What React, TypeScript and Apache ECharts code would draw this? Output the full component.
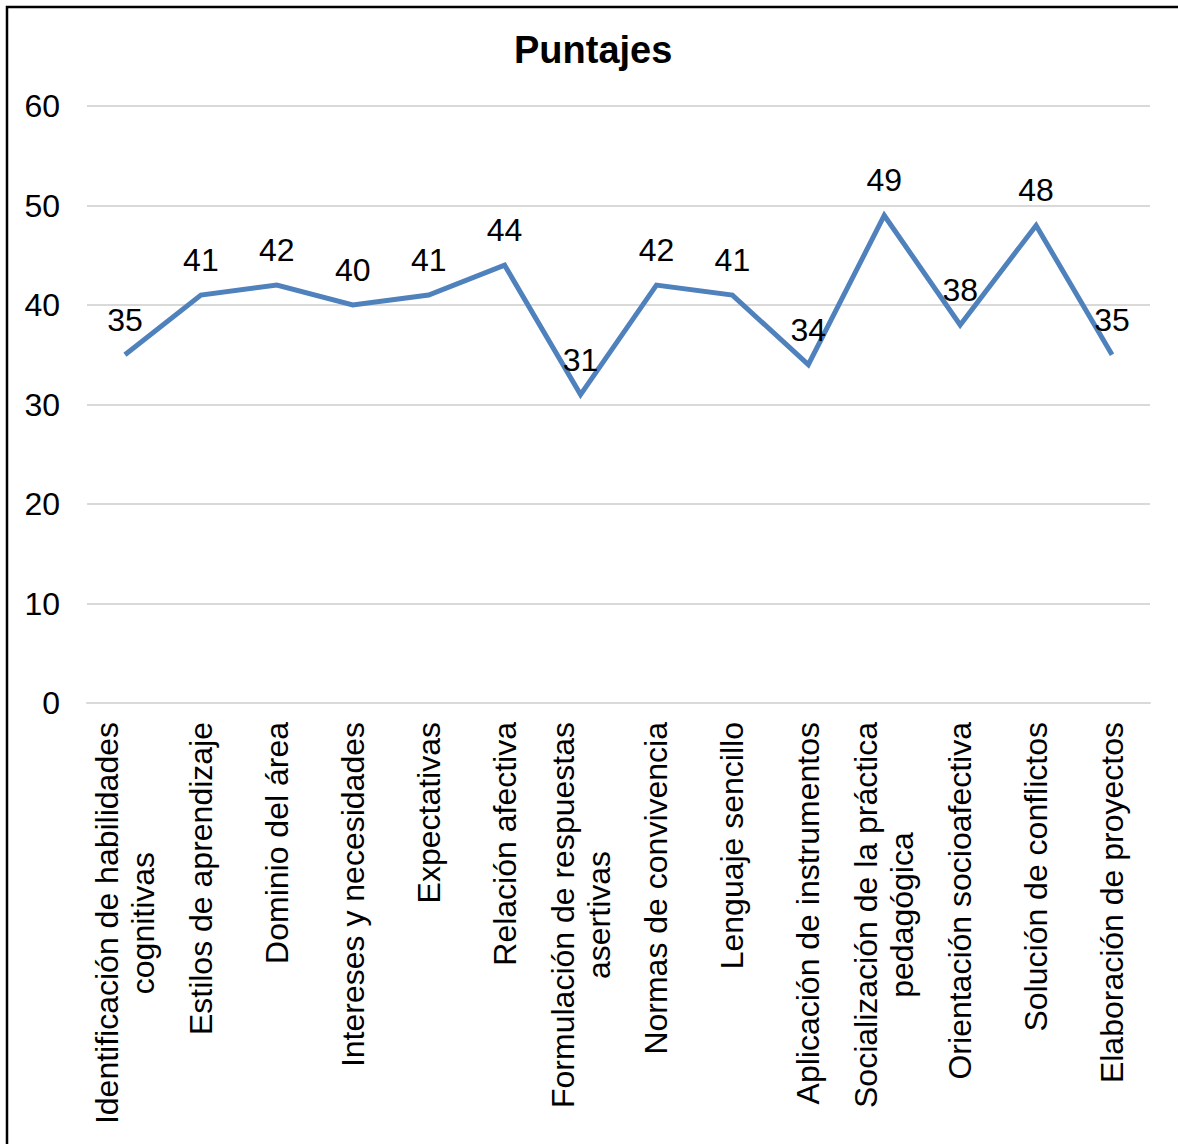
import React, { useEffect, useRef } from "react";
import * as echarts from "echarts";

const categories = [
  "Identificación de habilidades\ncognitivas",
  "Estilos de aprendizaje",
  "Dominio del área",
  "Intereses y necesidades",
  "Expectativas",
  "Relación afectiva",
  "Formulación de respuestas\nasertivas",
  "Normas de convivencia",
  "Lenguaje sencillo",
  "Aplicación de instrumentos",
  "Socialización de la práctica\npedagógica",
  "Orientación socioafectiva",
  "Solución de conflictos",
  "Elaboración de proyectos",
];
const puntajes = [35, 41, 42, 40, 41, 44, 31, 42, 41, 34, 49, 38, 48, 35];
const titleText = "Puntajes";

export default function App() {
  const ref = useRef<HTMLDivElement>(null);
  useEffect(() => {
    const chart = echarts.init(ref.current!, undefined, { renderer: "svg" });
    const font = "Liberation Sans, Arial, sans-serif";
    chart.setOption({
      animation: false,
      backgroundColor: "#ffffff",
      textStyle: { fontFamily: font },
      title: {
        text: titleText,
        left: 514,
        top: 31,
        padding: 0,
        textStyle: { fontFamily: font, fontSize: 38, fontWeight: "bold", color: "#000" },
      },
      graphic: [
        {
          type: "rect",
          shape: { x: 7, y: 7, width: 1185, height: 1160 },
          style: { fill: "none", stroke: "#000", lineWidth: 2.5 },
          silent: true,
        },
      ],
      grid: { left: 87, right: 28, top: 106, bottom: 441, containLabel: false },
      xAxis: {
        type: "category",
        data: categories,
        boundaryGap: true,
        axisLine: { show: true, lineStyle: { color: "#D9D9D9", width: 2 } },
        axisTick: { show: false },
        axisLabel: {
          interval: 0,
          rotate: 90,
          margin: 19,
          color: "#000",
          fontFamily: font,
          fontSize: 32,
          lineHeight: 36,
          formatter: (v: string) =>
            v.split("\n").map((l) => `{c|${l}}`).join("\n"),
          rich: {
            c: { align: "center", fontSize: 32, lineHeight: 36, fontFamily: font, color: "#000" },
          },
        },
      },
      yAxis: {
        type: "value",
        min: 0,
        max: 60,
        interval: 10,
        axisLine: { show: false },
        axisTick: { show: false },
        axisLabel: { color: "#000", fontFamily: font, fontSize: 32, margin: 27 },
        splitLine: { lineStyle: { color: "#D9D9D9", width: 2 } },
      },
      series: [
        {
          type: "line",
          data: puntajes,
          symbol: "circle",
          symbolSize: 0,
          showSymbol: true,
          lineStyle: { color: "#4F81BD", width: 5, join: "miter" },
          itemStyle: { color: "#4F81BD" },
          label: {
            show: true,
            position: "top",
            distance: 19,
            color: "#000",
            fontFamily: font,
            fontSize: 32,
          },
        },
      ],
    });
    return () => chart.dispose();
  }, []);
  return (
    <div
      ref={ref}
      style={{ position: "absolute", left: 0, top: 0, width: 1178, height: 1144 }}
    />
  );
}
